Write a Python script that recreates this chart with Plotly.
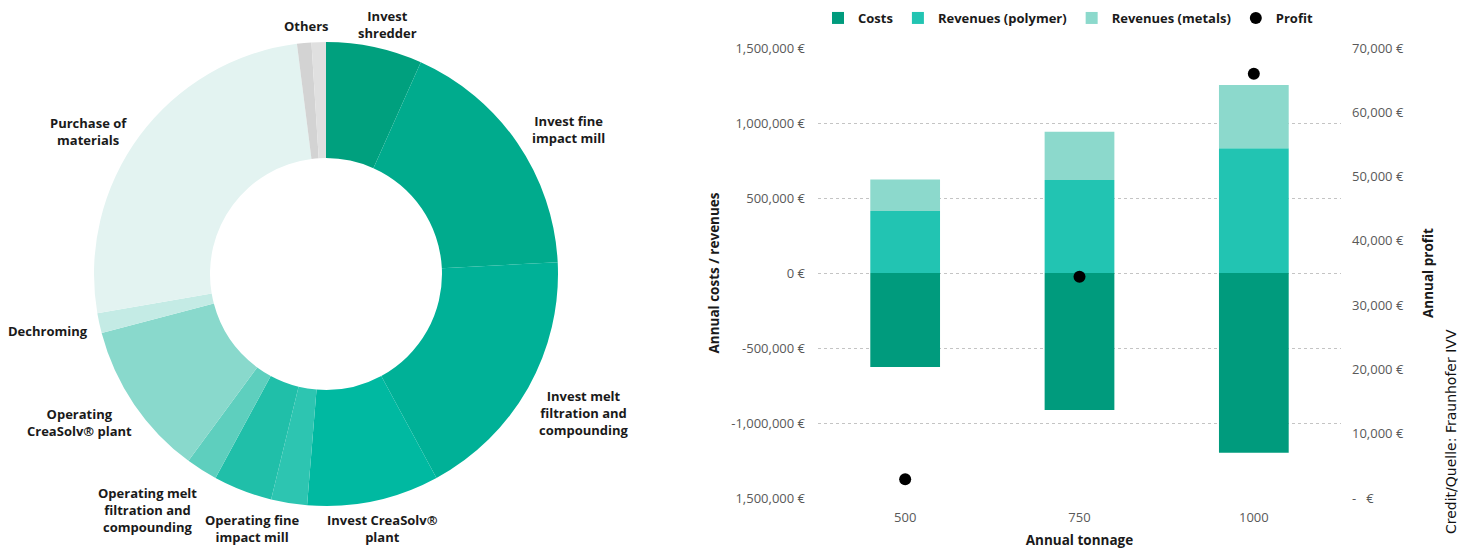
import plotly.graph_objects as go

# ---------------- Donut data ----------------
pie_labels = ["Invest shredder", "Invest fine impact mill", "Invest melt filtration and compounding",
              "Invest CreaSolv® plant", "Operating fine impact mill (a)", "Operating fine impact mill (b)",
              "Operating melt filtration and compounding", "Operating CreaSolv® plant", "Dechroming",
              "Purchase of materials", "Others (a)", "Others (b)"]
pie_values = [6.7, 17.5, 17.9, 9.2, 2.5, 4.1, 2.2, 10.8, 1.4, 25.7, 1.0, 1.0]
pie_colors = ["#00a07e", "#00ab8d", "#00b197", "#00b9a1", "#2dc5b1", "#20bfa9",
              "#5ecfbe", "#89d9cc", "#c4ebe5", "#e3f3f1", "#d3d3d3", "#e0e0e0"]

# ---------------- Bar data ----------------
tonnage = ["500", "750", "1000"]
costs = [-626000, -913000, -1198000]
rev_polymer = [413000, 620000, 831000]
rev_metals = [210000, 321000, 422000]
profit = [2900, 34400, 66000]

left_tickvals = [-1500000, -1000000, -500000, 0, 500000, 1000000, 1500000]
left_ticktext = ["1,500,000 €", "-1,000,000 €", "-500,000 €", "0 €", "500,000 €", "1,000,000 €", "1,500,000 €"]
right_tickvals = [0, 10000, 20000, 30000, 40000, 50000, 60000, 70000]
right_ticktext = ["-   €", "10,000 €", "20,000 €", "30,000 €", "40,000 €", "50,000 €", "60,000 €", "70,000 €"]

W, H = 1470, 552
def px(x):
    return x / W
def py(y):
    return 1 - y / H

fig = go.Figure()

fig.add_trace(go.Pie(
    labels=pie_labels, values=pie_values, sort=False, direction="clockwise", rotation=0,
    hole=0.5, marker=dict(colors=pie_colors, line=dict(width=0)),
    textinfo="none", showlegend=False,
    domain=dict(x=[px(326 - 232), px(326 + 232)], y=[py(274 + 232), py(274 - 232)]),
))

tick_font = dict(family="Open Sans", size=13, color="#595959")

fig.add_trace(go.Bar(name="Costs", x=tonnage, y=costs, marker=dict(color="#009b7d", line=dict(width=0)),
                     width=0.4, xaxis="x", yaxis="y"))
fig.add_trace(go.Bar(name="Revenues (polymer)", x=tonnage, y=rev_polymer,
                     marker=dict(color="#22c4b2", line=dict(width=0)), width=0.4, xaxis="x", yaxis="y"))
fig.add_trace(go.Bar(name="Revenues (metals)", x=tonnage, y=rev_metals,
                     marker=dict(color="#8cd9cc", line=dict(width=0)), width=0.4, xaxis="x", yaxis="y"))
fig.add_trace(go.Scatter(name="Profit", x=tonnage, y=profit, mode="markers",
                         marker=dict(color="#000000", size=12), xaxis="x", yaxis="y2"))

# Label annotations for donut
label_texts = ["Others", "Invest<br>shredder", "Invest fine<br>impact mill",
               "Invest melt<br>filtration and<br>compounding", "Invest CreaSolv®<br>plant",
               "Operating fine<br>impact mill", "Operating melt<br>filtration and<br>compounding",
               "Operating<br>CreaSolv® plant", "Dechroming", "Purchase of<br>materials"]
label_pos = [(306, 26), (387, 25), (568, 130), (584, 413), (382, 528), (252, 528),
             (147, 510), (79, 422), (48, 331), (88, 132)]
annotations = []
for t, (x, y) in zip(label_texts, label_pos):
    annotations.append(dict(text=t, x=px(x), y=py(y), xref="paper", yref="paper",
                            showarrow=False, align="center", xanchor="center", yanchor="middle",
                            font=dict(family="Open Sans", size=13, color="#1a1a1a", weight="bold")))

annotations.append(dict(text="Credit/Quelle: Fraunhofer IVV", x=px(1451), y=py(432), xref="paper", yref="paper",
                        showarrow=False, textangle=-90, xanchor="center", yanchor="middle",
                        font=dict(family="DejaVu Sans", size=14, color="#111111")))

fig.update_layout(
    width=W, height=H,
    margin=dict(l=0, r=0, t=0, b=0, autoexpand=False),
    paper_bgcolor="white", plot_bgcolor="white",
    barmode="relative", bargap=0.6,
    xaxis=dict(domain=[px(818), px(1341)], range=[-0.5, 2.5], type="category",
               showgrid=False, showline=False, zeroline=False, ticks="",
               tickfont=dict(family="Open Sans", size=13, color="#595959"), ticklabelstandoff=10,
               title=dict(text="Annual tonnage", standoff=10,
                          font=dict(family="Open Sans", size=13.5, color="#1a1a1a", weight="bold"))),
    yaxis=dict(domain=[py(498), py(48)], range=[-1500000, 1500000],
               tickvals=left_tickvals, ticktext=left_ticktext, tickfont=tick_font,
               showgrid=True, gridcolor="#c4c4c4", griddash="dot", gridwidth=1,
               zeroline=False, showline=False, ticks="", ticklabelstandoff=12,
               title=dict(text="Annual costs / revenues", standoff=8,
                          font=dict(family="Open Sans", size=13.5, color="#1a1a1a", weight="bold"))),
    yaxis2=dict(domain=[py(498), py(48)], range=[0, 70000], overlaying="y", side="right",
                tickvals=right_tickvals, ticktext=right_ticktext, tickfont=tick_font,
                showgrid=False, zeroline=False, showline=False, ticks="", ticklabelstandoff=10,
                anchor="x",
                title=dict(text="Annual profit", standoff=20,
                           font=dict(family="Open Sans", size=13.5, color="#1a1a1a", weight="bold"))),
    legend=dict(orientation="h", x=px(1068), xanchor="center", y=py(3), yanchor="top",
                font=dict(family="Open Sans", size=13, color="#1a1a1a", weight="bold"),
                itemwidth=30, tracegroupgap=0, bgcolor="rgba(0,0,0,0)"),
    annotations=annotations,
)

fig.write_html("out.html", config={"displayModeBar": False},
               post_script="document.body.style.margin='0';document.body.style.overflow='hidden';")
